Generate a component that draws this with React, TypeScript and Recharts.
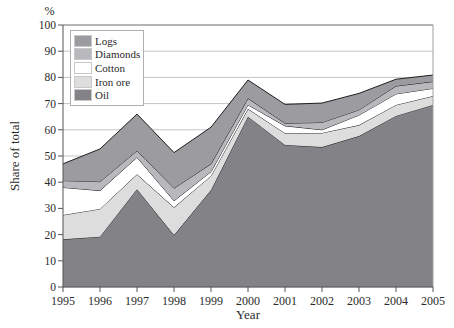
import React from 'react';
import { AreaChart, Area, XAxis, YAxis, CartesianGrid, Label, ReferenceLine } from 'recharts';

const years = ['1995', '1996', '1997', '1998', '1999', '2000', '2001', '2002', '2003', '2004', '2005'];
const oil = [18.2, 19.2, 37.3, 19.8, 37, 65, 54.2, 53.4, 57.6, 65.3, 69.5];
const ironOre = [9.3, 10.6, 5.7, 10.6, 5.4, 3, 4.5, 5.4, 4.2, 4.2, 3.4];
const cotton = [10.5, 7, 6.5, 2.5, 1.6, 1.5, 2.8, 1.2, 3.8, 4.2, 2.9];
const diamonds = [2.6, 3.4, 2.5, 4.8, 3, 2.5, 1, 2.8, 2, 3, 2.6];
const logs = [6.4, 12.5, 14, 13.6, 14, 7, 7.2, 7.4, 6.3, 2.6, 2.5];
const yTicks = [0, 10, 20, 30, 40, 50, 60, 70, 80, 90, 100];

const data = years.map((y, i) => ({
  year: y,
  Oil: oil[i],
  'Iron ore': ironOre[i],
  Cotton: cotton[i],
  Diamonds: diamonds[i],
  Logs: logs[i],
}));

const series = [
  { key: 'Oil', color: '#838286' },
  { key: 'Iron ore', color: '#dddddd' },
  { key: 'Cotton', color: '#ffffff' },
  { key: 'Diamonds', color: '#b9b9bd' },
  { key: 'Logs', color: '#9c9ca0' },
];

const FONT = '"Liberation Serif", "DejaVu Serif", serif';
const TEXT = '#2a2a2a';

const LegendBox = () => (
  <div
    style={{
      position: 'absolute',
      left: 70,
      top: 30,
      width: 74,
      boxSizing: 'border-box',
      border: '1px solid #b0b0b0',
      background: '#fff',
      padding: '3px 2px 3px 3px',
      fontFamily: FONT,
      fontSize: 11,
      color: TEXT,
    }}
  >
    {[...series].reverse().map((s) => (
      <div key={s.key} style={{ display: 'flex', alignItems: 'center', height: 13.6 }}>
        <div
          style={{
            width: 16,
            height: 10,
            background: s.color,
            border: '1px solid #c8c8c8',
            marginRight: 3,
            flexShrink: 0,
          }}
        />
        <span style={{ whiteSpace: 'nowrap' }}>{s.key}</span>
      </div>
    ))}
  </div>
);

export default function App() {
  return (
    <div style={{ position: 'absolute', left: 0, top: 0, width: 454, height: 328, background: '#fff' }}>
      <AreaChart
        width={454}
        height={328}
        data={data}
        margin={{ top: 25, right: 21, bottom: 11, left: 0 }}
      >
        <CartesianGrid vertical={false} stroke="#c4c4c4" strokeWidth={1} />
        <ReferenceLine y={100} stroke="#8a8a8a" strokeWidth={1} />
        <ReferenceLine x="2005" stroke="#a0a0a0" strokeWidth={1} />
        <XAxis
          dataKey="year"
          height={30}
          stroke="#555"
          tickLine={{ stroke: '#555' }}
          tickSize={5}
          tickMargin={4}
          tick={{ fill: TEXT, stroke: 'none', fontFamily: FONT, fontSize: 12 }}
          interval={0}
        >
          <Label value="Year" position="insideBottom" offset={-2} style={{ fill: TEXT, fontFamily: FONT, fontSize: 13 }} />
        </XAxis>
        <YAxis
          width={63}
          domain={[0, 100]}
          ticks={yTicks}
          interval={0}
          stroke="#555"
          tickSize={5}
          tick={{ fill: TEXT, stroke: 'none', fontFamily: FONT, fontSize: 11.5 }}
        >
          <Label
            value="Share of total"
            angle={-90}
            position="insideLeft"
            offset={14}
            style={{ textAnchor: 'middle', fill: TEXT, fontFamily: FONT, fontSize: 13 }}
          />
          <Label
            value="%"
            position="top"
            offset={10}
            dx={18}
            style={{ fill: TEXT, fontFamily: FONT, fontSize: 12 }}
          />
        </YAxis>
        {series.map((s) => (
          <Area
            key={s.key}
            type="linear"
            dataKey={s.key}
            stackId="1"
            fill={s.color}
            fillOpacity={1}
            stroke="#1e1e1e"
            strokeWidth={1}
            isAnimationActive={false}
            dot={false}
            activeDot={false}
          />
        ))}
      </AreaChart>
      <LegendBox />
    </div>
  );
}
